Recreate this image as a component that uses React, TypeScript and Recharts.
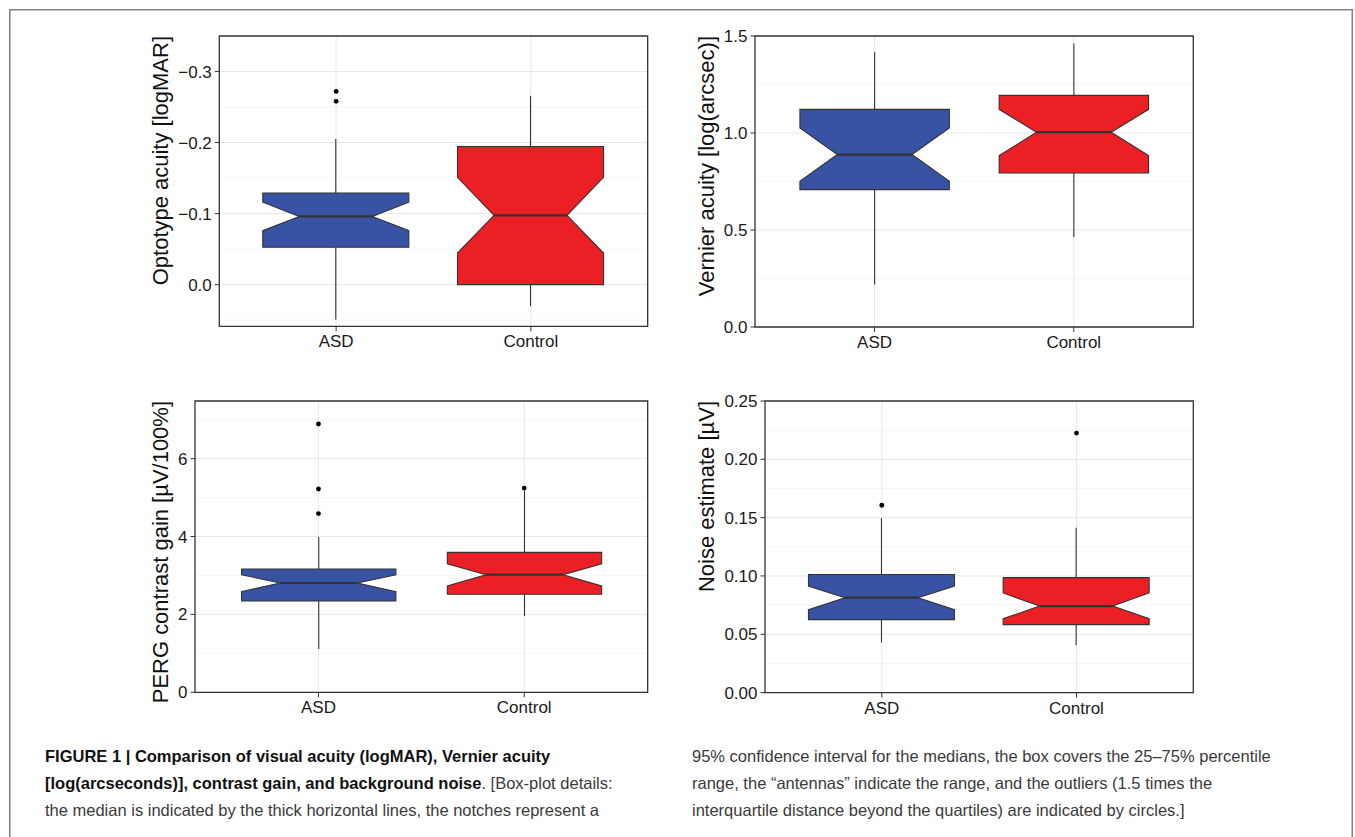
import React from 'react';
import { ComposedChart, Bar, Scatter, XAxis, YAxis, CartesianGrid, ReferenceArea } from 'recharts';

const FONT = '"Liberation Sans", Arial, Helvetica, sans-serif';

const categories = ['ASD', 'Control'];
const boxFills = ['#3953a4', '#ec1f25'];

// Optotype acuity [logMAR] (axis reversed)
const acuityMin = [-0.205, -0.266];
const acuityQ1 = [-0.129, -0.1945];
const acuityNotchLow = [-0.116, -0.151];
const acuityMedian = [-0.096, -0.0975];
const acuityNotchHigh = [-0.076, -0.0445];
const acuityQ3 = [-0.0525, 0.0];
const acuityMax = [0.049, 0.0305];
const acuityOutliers = [[-0.272, -0.258], []];
const acuityTicks = [-0.3, -0.2, -0.1, 0];
const acuityMinor = [-0.25, -0.15, -0.05, 0.05];

// Vernier acuity [log(arcsec)]
const vernierMin = [0.2185, 0.464];
const vernierQ1 = [0.708, 0.794];
const vernierNotchLow = [0.751, 0.8835];
const vernierMedian = [0.889, 1.004];
const vernierNotchHigh = [1.026, 1.122];
const vernierQ3 = [1.122, 1.194];
const vernierMax = [1.4175, 1.461];
const vernierOutliers = [[], []];
const vernierTicks = [0, 0.5, 1.0, 1.5];
const vernierMinor = [0.25, 0.75, 1.25];

// PERG contrast gain [µV/100%]
const pergMin = [1.112, 1.96];
const pergQ1 = [2.344, 2.516];
const pergNotchLow = [2.585, 2.73];
const pergMedian = [2.806, 3.02];
const pergNotchHigh = [3.02, 3.3];
const pergQ3 = [3.166, 3.594];
const pergMax = [3.99, 5.19];
const pergOutliers = [[4.59, 5.22, 6.89], [5.245]];
const pergTicks = [0, 2, 4, 6];
const pergMinor = [1, 3, 5, 7];

// Noise estimate [µV]
const noiseMin = [0.0429, 0.0405];
const noiseQ1 = [0.0626, 0.0583];
const noiseNotchLow = [0.0711, 0.0634];
const noiseMedian = [0.0814, 0.0742];
const noiseNotchHigh = [0.0914, 0.0854];
const noiseQ3 = [0.1012, 0.0986];
const noiseMax = [0.1497, 0.1414];
const noiseOutliers = [[0.1606], [0.2225]];
const noiseTicks = [0, 0.05, 0.1, 0.15, 0.2, 0.25];
const noiseMinor = [0.025, 0.075, 0.125, 0.175, 0.225];

const captionLeft = [
  [{ t: 'FIGURE 1 | Comparison of visual acuity (logMAR), Vernier acuity', b: true }],
  [
    { t: '[log(arcseconds)], contrast gain, and background noise', b: true },
    { t: '. [Box-plot details:', b: false },
  ],
  [{ t: 'the median is indicated by the thick horizontal lines, the notches represent a', b: false }],
];
const captionRight = [
  '95% confidence interval for the medians, the box covers the 25–75% percentile',
  'range, the \u201cantennas\u201d indicate the range, and the outliers (1.5 times the',
  'interquartile distance beyond the quartiles) are indicated by circles.]',
];

const EDGE = '#333333';

function BoxShape(props: any) {
  const { x, y, width, height, payload } = props;
  const d = payload;
  if (!d || x == null || y == null) return null;
  const lo = d.lo;
  const hi = d.hi;
  const py = (v: number) => y + ((hi - v) / (hi - lo)) * height;
  const L = x;
  const R = x + width;
  const C = x + width / 2;
  const inset = width / 4;
  const pts = [
    [L, d.q3],
    [R, d.q3],
    [R, d.nhi],
    [R - inset, d.med],
    [R, d.nlo],
    [R, d.q1],
    [L, d.q1],
    [L, d.nlo],
    [L + inset, d.med],
    [L, d.nhi],
  ]
    .map(([px, v]) => `${px},${py(v)}`)
    .join(' ');
  return (
    <g>
      <line x1={C} x2={C} y1={py(d.hi)} y2={py(d.q3)} stroke={EDGE} strokeWidth={1.1} />
      <line x1={C} x2={C} y1={py(d.q1)} y2={py(d.lo)} stroke={EDGE} strokeWidth={1.1} />
      <polygon points={pts} fill={d.fill} stroke={EDGE} strokeWidth={1.1} strokeLinejoin="miter" />
      <line x1={L + inset} x2={R - inset} y1={py(d.med)} y2={py(d.med)} stroke={EDGE} strokeWidth={2.2} />
    </g>
  );
}

function OutlierDot(props: any) {
  const { cx, cy } = props;
  if (cx == null || cy == null) return null;
  return <circle cx={cx} cy={cy} r={2.4} fill="#000" />;
}

type Plot = { left: number; top: number; right: number; bottom: number };

type PanelProps = {
  label: string;
  mins: number[];
  q1s: number[];
  notchLows: number[];
  medians: number[];
  notchHighs: number[];
  q3s: number[];
  maxs: number[];
  outliers: number[][];
  domain: [number, number];
  ticks: number[];
  minorTicks: number[];
  format: (v: number) => string;
  reversed?: boolean;
  plot: Plot;
  chartLeft: number;
  titleX: number;
};

function BoxPanel(p: PanelProps) {
  const mt = 10;
  const mr = 12;
  const xh = 40;
  const yw = p.plot.left - p.chartLeft;
  const plotW = p.plot.right - p.plot.left;
  const plotH = p.plot.bottom - p.plot.top;
  const width = p.plot.right - p.chartLeft + mr;
  const height = plotH + mt + xh;
  const data = categories.map((cat, i) => ({
    pos: i + 1,
    cat,
    lo: p.mins[i],
    q1: p.q1s[i],
    nlo: p.notchLows[i],
    med: p.medians[i],
    nhi: p.notchHighs[i],
    q3: p.q3s[i],
    hi: p.maxs[i],
    fill: boxFills[i],
  }));
  const outlierData = p.outliers.flatMap((vals, i) => vals.map((value) => ({ pos: i + 1, value })));
  const barSize = (0.75 * plotW) / 2.2;
  const titleRelX = p.titleX - p.chartLeft;
  const renderTitle = () => (
    <text
      x={titleRelX}
      y={mt}
      transform={`rotate(-90, ${titleRelX}, ${mt})`}
      textAnchor="end"
      dominantBaseline="central"
      fontSize={22}
      fontFamily={FONT}
      fill="#111"
    >
      {p.label}
    </text>
  );
  return (
    <div style={{ position: 'absolute', left: p.chartLeft, top: p.plot.top - mt }}>
      <ComposedChart width={width} height={height} data={data} margin={{ top: mt, right: mr, bottom: 0, left: 0 }}>
        <CartesianGrid horizontalValues={p.minorTicks} vertical={false} stroke="#f2f2f2" strokeWidth={0.8} />
        <CartesianGrid horizontalValues={p.ticks} verticalValues={[1, 2]} stroke="#e8e8e8" strokeWidth={1} />
        <XAxis
          type="number"
          dataKey="pos"
          domain={[0.4, 2.6]}
          ticks={[1, 2]}
          interval={0}
          allowDataOverflow
          tickFormatter={(v: number) => categories[v - 1]}
          axisLine={false}
          tickLine={{ stroke: EDGE }}
          tickSize={5}
          tickMargin={4}
          height={xh}
          tick={{ fontSize: 17, fill: '#1a1a1a', fontFamily: FONT }}
        />
        <YAxis
          type="number"
          domain={p.domain}
          ticks={p.ticks}
          interval={0}
          allowDataOverflow
          reversed={p.reversed}
          tickFormatter={p.format}
          axisLine={false}
          tickLine={{ stroke: EDGE }}
          tickSize={4.5}
          tickMargin={3}
          width={yw}
          tick={{ fontSize: 17, fill: '#1a1a1a', fontFamily: FONT }}
          label={renderTitle}
        />
        <Bar dataKey={(d: any) => [d.lo, d.hi]} barSize={barSize} shape={BoxShape} isAnimationActive={false} />
        <Scatter data={outlierData} dataKey="value" shape={OutlierDot} isAnimationActive={false} />
        <ReferenceArea
          y1={p.domain[0]}
          y2={p.domain[1]}
          fill="none"
          fillOpacity={0}
          stroke={EDGE}
          strokeWidth={1.3}
          ifOverflow="visible"
        />
      </ComposedChart>
    </div>
  );
}

const fmtAcuity = (v: number) => (Math.abs(v) < 1e-9 ? '0.0' : (v < 0 ? '\u2212' : '') + Math.abs(v).toFixed(1));
const fmt1 = (v: number) => v.toFixed(1);
const fmt0 = (v: number) => v.toFixed(0);
const fmt2 = (v: number) => v.toFixed(2);

const CAP_SIZE = 16.5;
const CAP_Y = 762;
const CAP_STEP = 27;

export default function App() {
  return (
    <div
      style={{
        position: 'absolute',
        left: 0,
        top: 0,
        width: 1355,
        height: 837,
        overflow: 'hidden',
        background: '#fff',
        fontFamily: FONT,
      }}
    >
      <svg width={1355} height={837} style={{ position: 'absolute', left: 0, top: 0 }}>
        <polyline points="9.75,837 9.75,9.75 1352.25,9.75 1352.25,837" fill="none" stroke="#808080" strokeWidth={1.5} />
        {captionLeft.map((line, i) => (
          <text key={'l' + i} x={45} y={CAP_Y + i * CAP_STEP} fontSize={CAP_SIZE} fontFamily={FONT} fill="#2a2a2a">
            {line.map((seg, j) => (
              <tspan key={j} fontWeight={seg.b ? 'bold' : 'normal'} fill={seg.b ? '#111' : '#3a3a3a'}>
                {seg.t}
              </tspan>
            ))}
          </text>
        ))}
        {captionRight.map((line, i) => (
          <text key={'r' + i} x={692} y={CAP_Y + i * CAP_STEP} fontSize={CAP_SIZE} fontFamily={FONT} fill="#3a3a3a">
            {line}
          </text>
        ))}
      </svg>
      <BoxPanel
        label="Optotype acuity [logMAR]"
        mins={acuityMin}
        q1s={acuityQ1}
        notchLows={acuityNotchLow}
        medians={acuityMedian}
        notchHighs={acuityNotchHigh}
        q3s={acuityQ3}
        maxs={acuityMax}
        outliers={acuityOutliers}
        domain={[-0.35, 0.0587]}
        ticks={acuityTicks}
        minorTicks={acuityMinor}
        format={fmtAcuity}
        reversed
        plot={{ left: 219.3, top: 35.7, right: 647.7, bottom: 326 }}
        chartLeft={140}
        titleX={160.7}
      />
      <BoxPanel
        label="Vernier acuity [log(arcsec)]"
        mins={vernierMin}
        q1s={vernierQ1}
        notchLows={vernierNotchLow}
        medians={vernierMedian}
        notchHighs={vernierNotchHigh}
        q3s={vernierQ3}
        maxs={vernierMax}
        outliers={vernierOutliers}
        domain={[0, 1.5]}
        ticks={vernierTicks}
        minorTicks={vernierMinor}
        format={fmt1}
        plot={{ left: 755, top: 35.7, right: 1193.3, bottom: 326.7 }}
        chartLeft={680}
        titleX={706.7}
      />
      <BoxPanel
        label="PERG contrast gain [µV/100%]"
        mins={pergMin}
        q1s={pergQ1}
        notchLows={pergNotchLow}
        medians={pergMedian}
        notchHighs={pergNotchHigh}
        q3s={pergQ3}
        maxs={pergMax}
        outliers={pergOutliers}
        domain={[0, 7.48]}
        ticks={pergTicks}
        minorTicks={pergMinor}
        format={fmt0}
        plot={{ left: 195, top: 400.7, right: 647.7, bottom: 692 }}
        chartLeft={140}
        titleX={160.7}
      />
      <BoxPanel
        label="Noise estimate [µV]"
        mins={noiseMin}
        q1s={noiseQ1}
        notchLows={noiseNotchLow}
        medians={noiseMedian}
        notchHighs={noiseNotchHigh}
        q3s={noiseQ3}
        maxs={noiseMax}
        outliers={noiseOutliers}
        domain={[0, 0.25]}
        ticks={noiseTicks}
        minorTicks={noiseMinor}
        format={fmt2}
        plot={{ left: 765, top: 400.7, right: 1193.3, bottom: 692.3 }}
        chartLeft={680}
        titleX={706.7}
      />
    </div>
  );
}
